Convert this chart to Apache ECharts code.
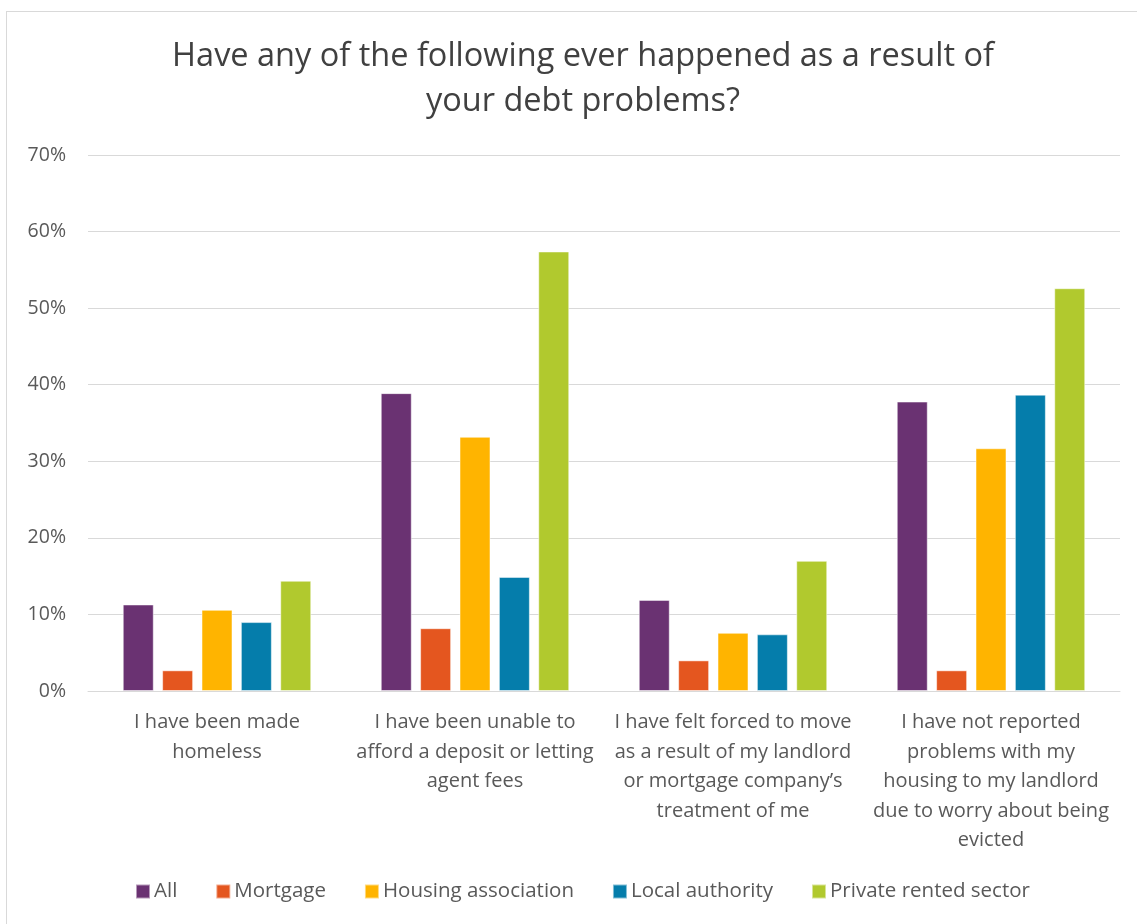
<!DOCTYPE html>
<html>
<head>
<meta charset="utf-8">
<script src="https://cdn.jsdelivr.net/npm/echarts@6/dist/echarts.min.js"></script>
<style>
  html, body { margin: 0; padding: 0; background: #fff; }
  #frame { position: absolute; left: 6px; top: 11px; width: 1140px; height: 920px; border: 1px solid #d9d9d9; box-sizing: border-box; }
  #main { position: absolute; left: 0; top: 0; width: 1137px; height: 924px; }
</style>
</head>
<body>
<div id="frame"></div>
<div id="main"></div>
<script>
// categories (line breaks as in the picture)
var categories = [
    'I have been made\nhomeless',
    'I have been unable to\nafford a deposit or letting\nagent fees',
    'I have felt forced to move\nas a result of my landlord\nor mortgage company\u2019s\ntreatment of me',
    'I have not reported\nproblems with my\nhousing to my landlord\ndue to worry about being\nevicted'
];
var seriesNames = ['All', 'Mortgage', 'Housing association', 'Local authority', 'Private rented sector'];
var colors = ['#6a3272', '#e4561f', '#ffb400', '#057dab', '#b1c92e'];

var allData     = [11.3, 38.9, 11.9, 37.8];
var mortgage    = [2.7, 8.2, 4.0, 2.7];
var housingAssn = [10.6, 33.2, 7.6, 31.7];
var localAuth   = [9.0, 14.9, 7.4, 38.7];
var privateRent = [14.4, 57.4, 17.0, 52.6];

var values = [allData, mortgage, housingAssn, localAuth, privateRent];

var myChart = echarts.init(document.getElementById('main'));

var series = [];
for (var i = 0; i < seriesNames.length; i++) {
    series.push({
        name: seriesNames[i],
        type: 'bar',
        data: values[i],
        barWidth: 31,
        barGap: '27%',
        itemStyle: { color: colors[i], borderColor: 'rgba(255,255,255,0.5)', borderWidth: 1 }
    });
}

var option = {
    animation: false,
    textStyle: { fontFamily: 'Open Sans' },
    title: {
        text: 'Have any of the following ever happened as a result of\nyour debt problems?',
        left: 578,
        top: 29,
        textAlign: 'center',
        textStyle: { fontSize: 32.5, fontWeight: 'normal', color: '#404040', lineHeight: 45, fontFamily: 'Open Sans' }
    },
    legend: {
        bottom: 17,
        left: 130,
        itemWidth: 14,
        itemHeight: 14,
        itemGap: 38,
        icon: 'rect',
        textStyle: { fontSize: 20.5, color: '#595959', padding: [0, 0, 0, -1] },
        data: seriesNames
    },
    grid: { left: 88, right: 17, top: 155, bottom: 233, containLabel: false },
    xAxis: {
        type: 'category',
        data: categories,
        axisTick: { show: false },
        axisLine: { lineStyle: { color: '#d9d9d9', width: 1 } },
        axisLabel: { color: '#595959', fontSize: 20, lineHeight: 29.5, margin: 17, interval: 0 }
    },
    yAxis: {
        type: 'value',
        min: 0,
        max: 70,
        interval: 10,
        axisLine: { show: false },
        axisTick: { show: false },
        splitLine: { lineStyle: { color: '#d9d9d9', width: 1 } },
        axisLabel: { color: '#595959', fontSize: 19.5, margin: 22, formatter: '{value}%' }
    },
    series: series
};

myChart.setOption(option);
</script>
</body>
</html>
